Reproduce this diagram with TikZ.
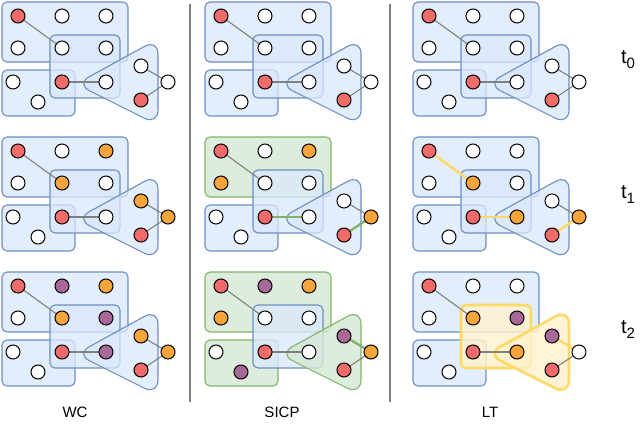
\documentclass[tikz,border=0pt]{standalone}
\usepackage{fontspec}
\setmainfont{Liberation Sans}
\definecolor{R}{HTML}{F26B6B}
\definecolor{O}{HTML}{F7A43B}
\definecolor{P}{HTML}{A8699A}
\colorlet{W}{white}
\definecolor{bfill}{HTML}{DAE8FC}
\definecolor{bdraw}{HTML}{6C8EBF}
\definecolor{gfill}{HTML}{D5E8D4}
\definecolor{gdraw}{HTML}{82B366}
\definecolor{yfill}{HTML}{FFF2CC}
\definecolor{ydraw}{HTML}{FFD966}
\tikzset{
 dot/.style={circle,draw=black,line width=1pt,minimum size=14pt,inner sep=0pt},
 bbox/.style={fill=bfill,fill opacity=.75,draw=bdraw,line width=1.1pt,rounded corners=5pt},
 gbox/.style={fill=gfill,fill opacity=.8,draw=gdraw,line width=1.1pt,rounded corners=5pt},
 ybox/.style={fill=yfill,fill opacity=.8,draw=ydraw,line width=2.6pt,rounded corners=5pt},
 ge/.style={draw=gray,line width=1.1pt},
 gre/.style={draw=gdraw,line width=2.4pt},
 ye/.style={draw=ydraw,line width=2.4pt},
 lab/.style={font=\fontsize{15}{15}\selectfont}
}
\newcommand\pnl[3]{%
\begin{scope}[shift={(#2,#3)}]
\path[\bT] (2,2) rectangle (128,62);
\path[\bL] (2,70) rectangle (75,116);
\path[\bM] (50,35) rectangle (120,98);
\path[\bR,rounded corners=15pt] (76,84) -- (158,39) -- (158,125) -- cycle;
\foreach \c [count=\i] in \cols {
 \pgfmathsetmacro\px{{18,62,106,18,62,106,13,62,106,38,141,168,141}[\i-1]}
 \pgfmathsetmacro\py{{16,16,16,48,48,48,82,82,82,102,66,82,100}[\i-1]}
 \coordinate (#1c\i) at (\px,\py);
}
\draw[\eA] (#1c1) -- (#1c5);
\draw[\eB] (#1c8) -- (#1c9);
\draw[\eC] (#1c11) -- (#1c12);
\draw[\eD] (#1c12) -- (#1c13);
\foreach \c [count=\i] in \cols {
 \node[dot,fill=\c] (#1n\i) at (#1c\i) {};
}
\end{scope}}
\newcommand\std{\def\bT{bbox}\def\bL{bbox}\def\bM{bbox}\def\bR{bbox}\def\eA{ge}\def\eB{ge}\def\eC{ge}\def\eD{ge}}
\begin{document}
\begin{tikzpicture}[x=1pt,y=-1pt]
\useasboundingbox (0,0) rectangle (640,428);
\draw[gray,line width=1.3pt] (190,4) -- (190,402);
\draw[gray,line width=1.3pt] (390,4) -- (390,402);
% WC
{\std\def\cols{R,W,W,W,W,W,W,R,W,W,W,W,R}\pnl{a}{0}{0}}
{\std\def\cols{R,W,O,W,O,W,W,R,W,W,O,O,R}\pnl{b}{0}{135}}
{\std\def\cols{R,P,O,W,O,P,W,R,P,W,O,O,R}\pnl{c}{0}{270}}
% SICP
{\std\def\cols{R,W,W,W,W,W,W,R,W,W,W,W,R}\pnl{d}{203}{0}}
{\std\def\bT{gbox}\def\eB{gre}\def\eD{gre}\def\cols{R,W,O,O,W,W,W,R,W,W,W,O,R}\pnl{e}{203}{135}}
{\std\def\bT{gbox}\def\bL{gbox}\def\bR{gbox}\def\eC{gre}\def\cols{R,P,O,O,W,W,W,R,W,P,P,O,R}\pnl{f}{203}{270}}
% LT
{\std\def\cols{R,W,W,W,W,W,W,R,W,W,W,W,R}\pnl{g}{411}{0}}
{\std\def\eA{ye}\def\eB{ye}\def\eD{ye}\def\cols{R,W,W,W,O,W,W,R,O,W,W,O,R}\pnl{h}{411}{135}}
{\std\def\bM{ybox}\def\bR{ybox}\def\eC{ye}\def\cols{R,W,W,W,O,P,W,R,O,W,P,W,R}\pnl{i}{411}{270}}
\node[lab] (l1) at (75,412) {WC};
\node[lab] (l2) at (282,412) {SICP};
\node[lab] (l3) at (490,412) {LT};
\foreach \k/\yy in {0/60,1/195,2/330}
 \node[font=\fontsize{20}{20}\selectfont] (t\k) at (628,\yy) {t\raisebox{-5pt}{\fontsize{15}{15}\selectfont\k}};
\end{tikzpicture}
\end{document}
